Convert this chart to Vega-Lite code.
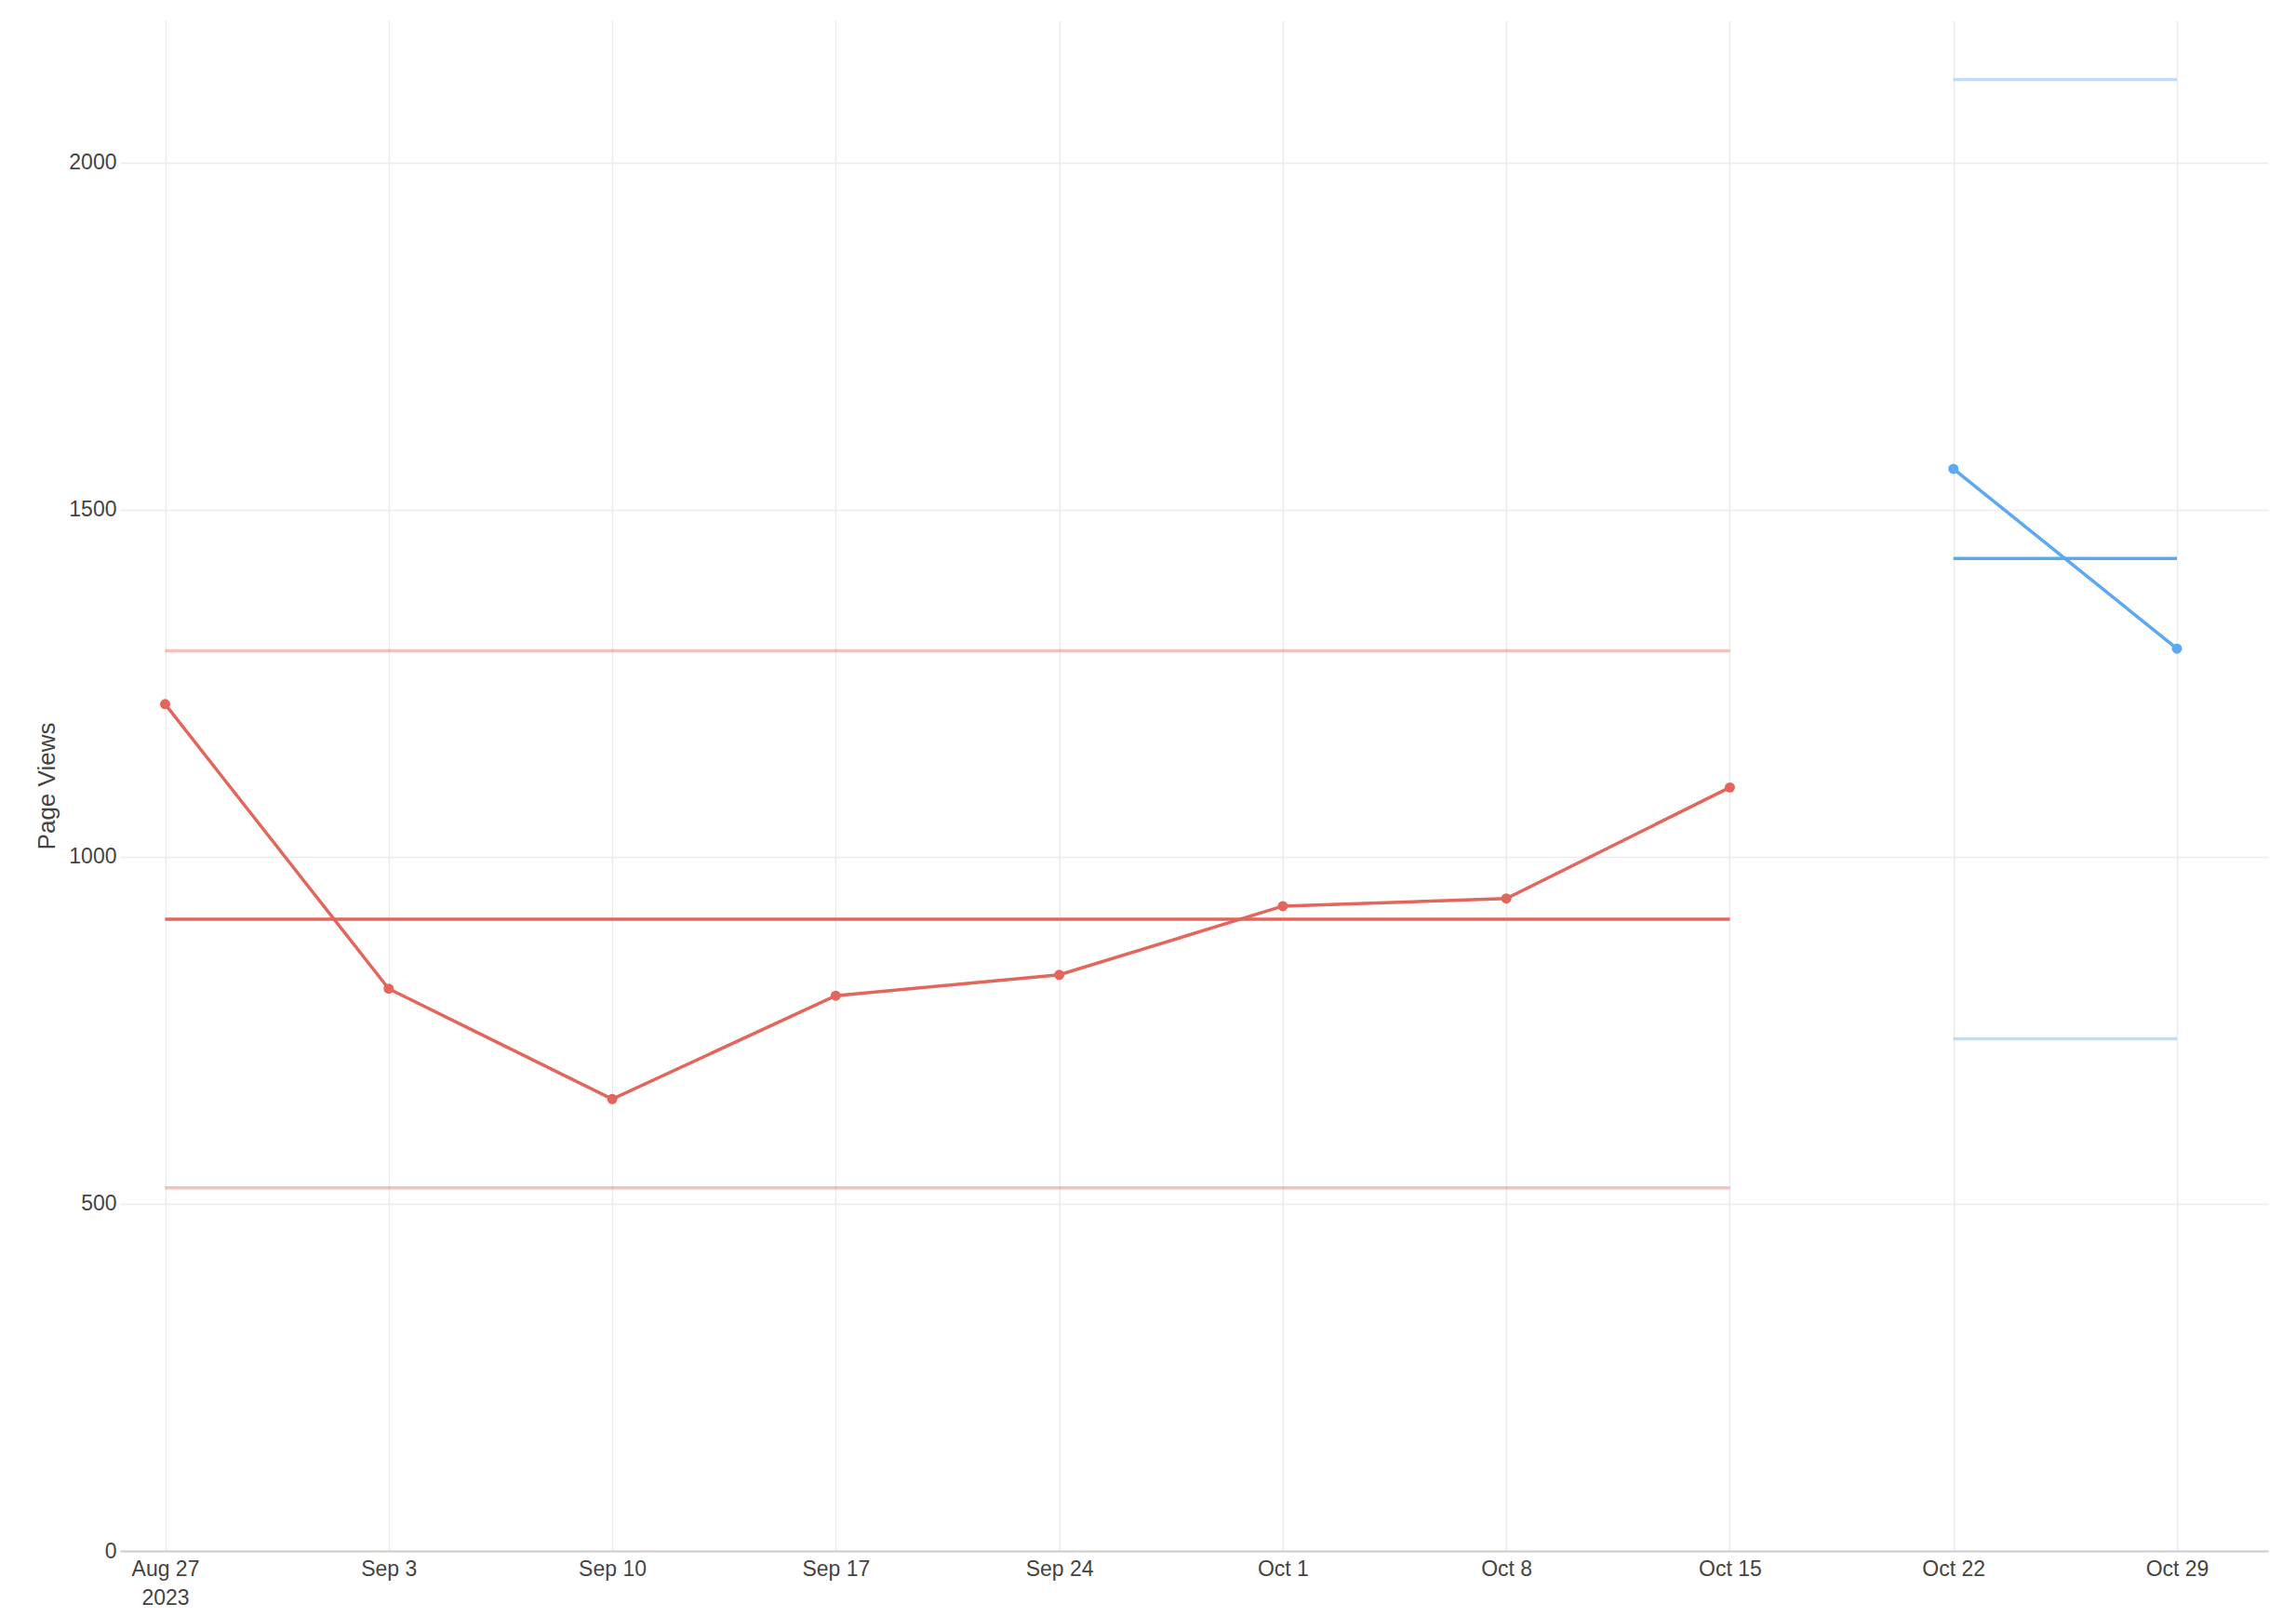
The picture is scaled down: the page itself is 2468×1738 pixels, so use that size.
{
  "$schema": "https://vega.github.io/schema/vega-lite/v6.json",
  "width": 2309,
  "height": 1645,
  "autosize": "none",
  "padding": {"left": 129, "top": 22, "right": 30, "bottom": 71},
  "background": "white",
  "config": {
    "view": {"stroke": null},
    "font": "Liberation Sans",
    "axis": {
      "labelFont": "Liberation Sans",
      "titleFont": "Liberation Sans",
      "labelColor": "#444444",
      "titleColor": "#444444",
      "gridColor": "#ebebeb",
      "gridWidth": 1.5,
      "ticks": false,
      "tickSize": 0
    }
  },
  "datasets": {
    "views": [
      {"date": "2023-08-27", "views": 1220, "period": "past"},
      {"date": "2023-09-03", "views": 810, "period": "past"},
      {"date": "2023-09-10", "views": 651, "period": "past"},
      {"date": "2023-09-17", "views": 800, "period": "past"},
      {"date": "2023-09-24", "views": 830, "period": "past"},
      {"date": "2023-10-01", "views": 929, "period": "past"},
      {"date": "2023-10-08", "views": 940, "period": "past"},
      {"date": "2023-10-15", "views": 1100, "period": "past"},
      {"date": "2023-10-22", "views": 1559, "period": "current"},
      {"date": "2023-10-29", "views": 1300, "period": "current"}
    ],
    "stats": [
      {"period": "past", "date": "2023-08-27", "end": "2023-10-15", "mean": 910, "lower": 523, "upper": 1297},
      {"period": "current", "date": "2023-10-22", "end": "2023-10-29", "mean": 1430, "lower": 738, "upper": 2120}
    ]
  },
  "encoding": {
    "x": {
      "field": "date",
      "type": "temporal",
      "title": null,
      "scale": {
        "type": "utc",
        "domain": [
          {"year": 2023, "month": 8, "date": 25, "hours": 14, "minutes": 5, "utc": true},
          {"year": 2023, "month": 10, "date": 31, "hours": 20, "minutes": 31, "utc": true}
        ]
      },
      "axis": {
        "values": [
          {"year": 2023, "month": 8, "date": 27, "utc": true},
          {"year": 2023, "month": 9, "date": 3, "utc": true},
          {"year": 2023, "month": 9, "date": 10, "utc": true},
          {"year": 2023, "month": 9, "date": 17, "utc": true},
          {"year": 2023, "month": 9, "date": 24, "utc": true},
          {"year": 2023, "month": 10, "date": 1, "utc": true},
          {"year": 2023, "month": 10, "date": 8, "utc": true},
          {"year": 2023, "month": 10, "date": 15, "utc": true},
          {"year": 2023, "month": 10, "date": 22, "utc": true},
          {"year": 2023, "month": 10, "date": 29, "utc": true}
        ],
        "labelExpr": "utcFormat(datum.value, '%m-%d') == '08-27' ? [utcFormat(datum.value, '%b %-d'), utcFormat(datum.value, '%Y')] : utcFormat(datum.value, '%b %-d')",
        "grid": true,
        "domain": true,
        "domainColor": "#cccccc",
        "domainWidth": 2,
        "labelPadding": 8,
        "labelFontSize": 23,
        "labelLineHeight": 31,
        "labelFlush": false,
        "labelOverlap": false
      }
    }
  },
  "layer": [
    {
      "data": {"name": "stats"},
      "mark": {"type": "rule", "strokeWidth": 3.5, "opacity": 0.4},
      "encoding": {
        "x2": {"field": "end"},
        "y": {
          "field": "upper",
          "type": "quantitative",
          "scale": {"domain": [0, 2205], "nice": false, "zero": true},
          "axis": {
            "values": [0, 500, 1000, 1500, 2000],
            "format": "d",
            "grid": true,
            "domain": false,
            "labelPadding": 4,
            "labelFontSize": 23,
            "title": "Page Views",
            "titleFontSize": 26,
            "titleFontWeight": "normal",
            "titlePadding": 10
          }
        },
        "color": {
          "field": "period",
          "type": "nominal",
          "scale": {"domain": ["past", "current"], "range": ["#e2665b", "#5aa9f2"]},
          "legend": null
        }
      }
    },
    {
      "data": {"name": "stats"},
      "mark": {"type": "rule", "strokeWidth": 3.5, "opacity": 0.4},
      "encoding": {
        "x2": {"field": "end"},
        "y": {"field": "lower", "type": "quantitative"},
        "color": {"field": "period", "type": "nominal"}
      }
    },
    {
      "data": {"name": "stats"},
      "mark": {"type": "rule", "strokeWidth": 3.5},
      "encoding": {
        "x2": {"field": "end"},
        "y": {"field": "mean", "type": "quantitative"},
        "color": {"field": "period", "type": "nominal"}
      }
    },
    {
      "data": {"name": "views"},
      "mark": {"type": "line", "strokeWidth": 3.5, "point": {"filled": true, "size": 120, "opacity": 1}},
      "encoding": {
        "y": {"field": "views", "type": "quantitative"},
        "color": {"field": "period", "type": "nominal"}
      }
    }
  ]
}
